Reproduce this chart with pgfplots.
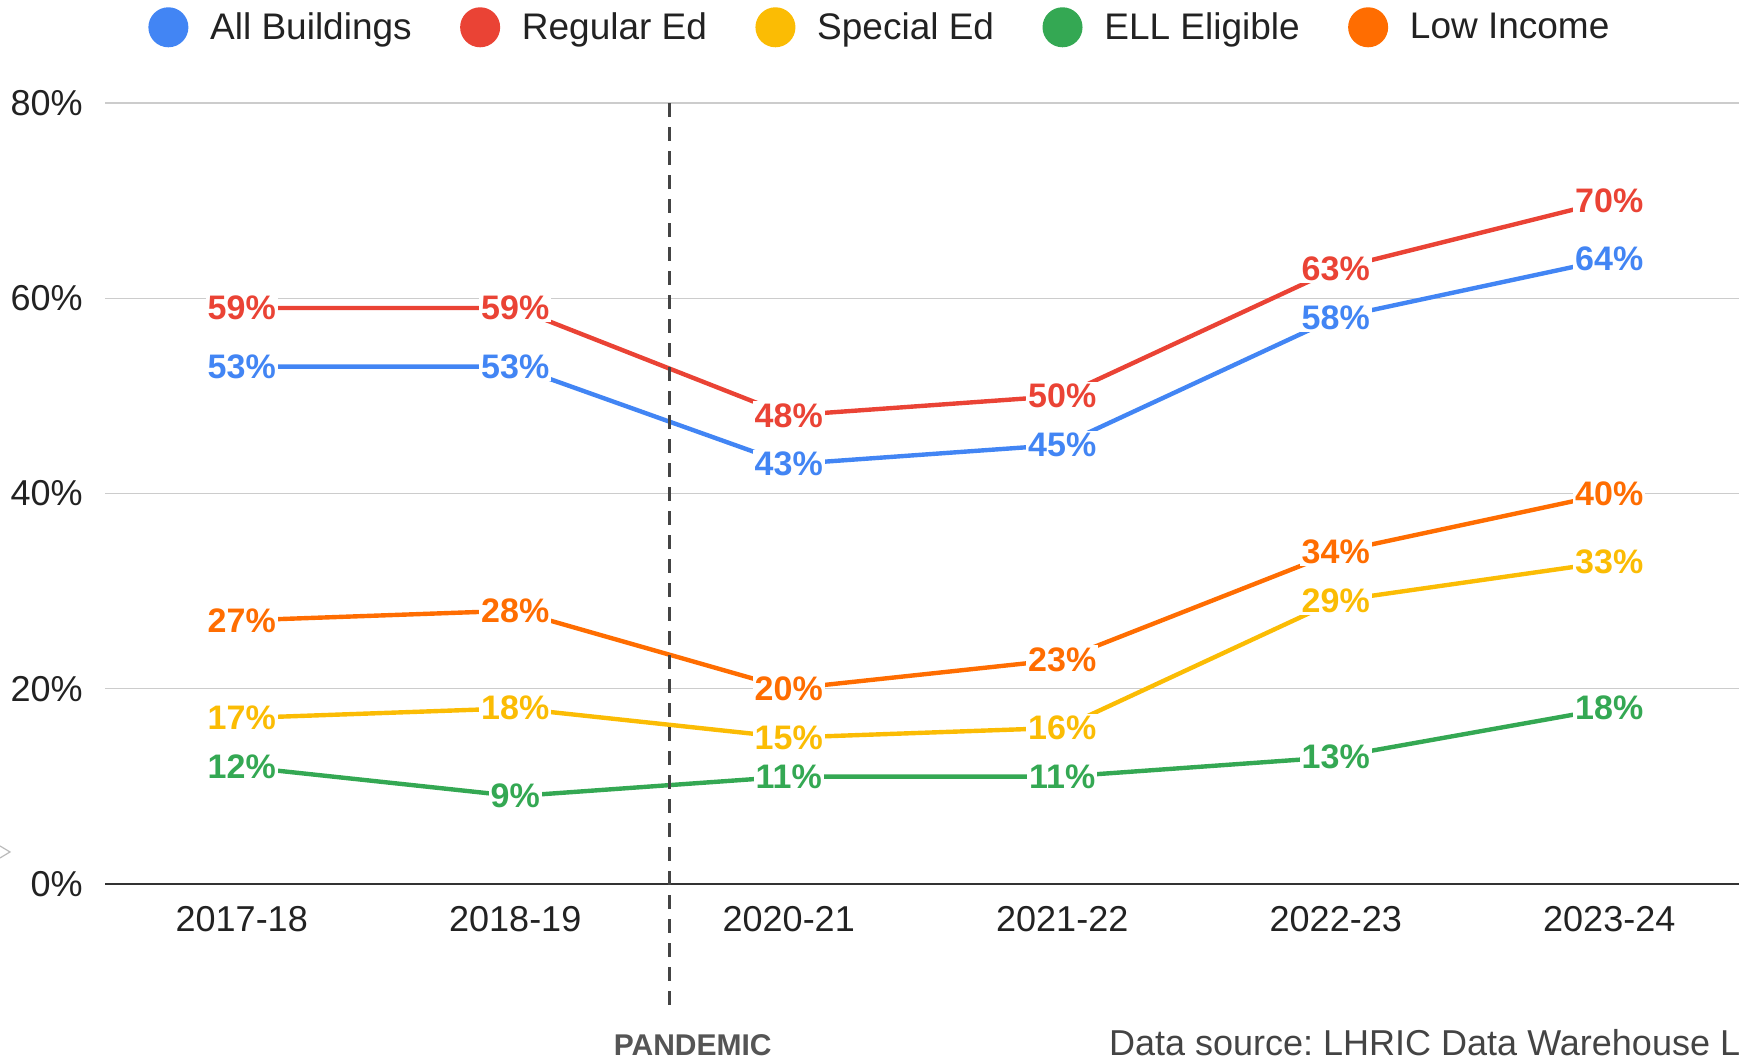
\documentclass[border=0pt]{standalone}
\usepackage{fontspec}
\setmainfont{Liberation Sans}
\usepackage{pgfplots}
\usepackage{pgfplotstable}
\pgfplotsset{compat=1.18}
\definecolor{cBlue}{HTML}{4285F4}
\definecolor{cRed}{HTML}{EA4335}
\definecolor{cYellow}{HTML}{FBBC04}
\definecolor{cGreen}{HTML}{34A853}
\definecolor{cOrange}{HTML}{FF6D01}
\definecolor{cGrid}{HTML}{CCCCCC}
\definecolor{cAxis}{HTML}{333333}
\definecolor{cText}{HTML}{222222}
\definecolor{cDash}{HTML}{444444}
\definecolor{cPand}{HTML}{555555}
\definecolor{cLight}{HTML}{BBBBBB}

\pgfplotstableread{
x all reg sped ell low
0 53 59 17 12 27
1 53 59 18 9 28
2 43 48 15 11 20
3 45 50 16 11 23
4 58 63 29 13 34
5 64 70 33 18 40
}\datatable

\begin{document}
\frenchspacing
\begin{tikzpicture}
\path[use as bounding box, clip] (0,0) rectangle (869.5pt,530pt);
\draw[cLight, line width=0.6pt] (0pt,107pt) -- (5pt,104pt) -- (0pt,101pt);
\begin{axis}[
  at={(52.5pt,88pt)}, anchor=south west,
  x=136.75pt, y=4.881pt,
  xmin=-0.5, xmax=5.475, ymin=0, ymax=80,
  clip=false,
  axis x line*=bottom, axis y line*=left,
  y axis line style={draw=none},
  x axis line style={draw=cAxis, line width=1.2pt},
  major tick length=0pt,
  xtick={0,1,2,3,4,5},
  xticklabels={2017-18,2018-19,2020-21,2021-22,2022-23,2023-24},
  ytick={0,20,40,60,80},
  yticklabels={0\%,20\%,40\%,60\%,80\%},
  ymajorgrids, grid style={draw=cGrid, line width=0.6pt},
  tick label style={font=\fontsize{18}{22}\selectfont, text=cText},
  xticklabel style={inner sep=0pt, anchor=north, yshift=-11pt},
  yticklabel style={inner sep=0pt, anchor=east, xshift=-11pt},
  every axis plot/.append style={line width=2.2pt, mark=none},
  nodes near coords={\pgfmathprintnumber{\pgfplotspointmeta}\%},
  every node near coord/.append style={font=\bfseries\fontsize{17}{20}\selectfont, anchor=center, fill=white, inner sep=1pt, /pgf/number format/assume math mode=true},
  legend columns=5,
  legend image code/.code={\fill[#1] (0pt,0pt) circle (8.9pt);},
  legend style={at={(axis description cs:0.0263,1.097)}, anchor=west, draw=none, fill=none, inner sep=0pt,
    font=\fontsize{18.5}{22}\selectfont, text=cText, nodes={inner sep=0pt},
    /tikz/every odd column/.append style={column sep=10.9pt},
    /tikz/every even column/.append style={column sep=24.2pt}},
  legend cell align=left,
]
\addplot[cBlue, every node near coord/.append style={text=cBlue}] table[x=x,y=all]{\datatable};
\addlegendentry{All Buildings}
\addplot[cRed, every node near coord/.append style={text=cRed}] table[x=x,y=reg]{\datatable};
\addlegendentry{Regular Ed}
\addplot[cYellow, every node near coord/.append style={text=cYellow}] table[x=x,y=sped]{\datatable};
\addlegendentry{Special Ed}
\addplot[cGreen, every node near coord/.append style={text=cGreen}] table[x=x,y=ell]{\datatable};
\addlegendentry{ELL Eligible}
\addplot[cOrange, every node near coord/.append style={text=cOrange}] table[x=x,y=low]{\datatable};
\addlegendentry{Low Income}
\draw[cDash, line width=1.3pt, dash pattern=on 7pt off 5pt] (axis cs:1.565,80) -- (axis cs:1.565,-13.4);
\node[font=\bfseries\fontsize{15}{18}\selectfont, text=cPand] at (axis cs:1.649,-16.5) {PANDEMIC};
\node[anchor=west, font=\fontsize{18}{22}\selectfont, text=cDash, inner sep=0pt] at (axis cs:3.170,-16.2) {Data source: LHRIC Data Warehouse L};
\end{axis}
\end{tikzpicture}
\end{document}
